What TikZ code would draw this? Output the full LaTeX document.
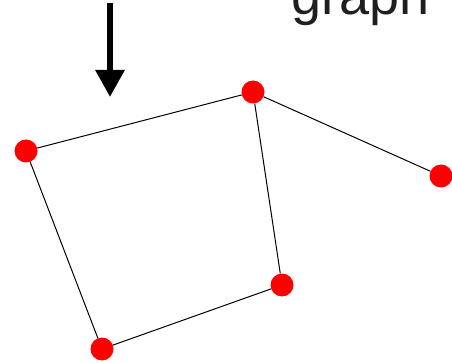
\documentclass[tikz,border=0pt]{standalone}
\usepackage{fontspec}
\setmainfont{Liberation Sans}
\usetikzlibrary{arrows.meta}
\begin{document}
\begin{tikzpicture}[x=1pt, y=-1pt, thin]

    % --- frame of the picture ---
    \useasboundingbox (0,0) rectangle (452,363);

    % --- styles ---
    \tikzset{
        vertex/.style={circle, fill=red, inner sep=0pt, minimum size=23pt},
        edge/.style={draw=black, line width=1pt}
    }

    % --- 1. the word "graph" (cut at the top) ---
    \node[anchor=base west, inner sep=0pt, text=black!88, font=\fontsize{54}{54}\selectfont] (title) at (291,15) {graph};

    % --- 2. thick arrow pointing down ---
    \coordinate (arrowtop) at (110,3);
    \coordinate (arrowtip) at (110,97);
    \draw[line width=6pt, -{Triangle[width=28pt, length=27pt]}] (arrowtop) -- (arrowtip);

    % --- 3. the vertices ---
    \node[vertex] (left)   at (26,151) {};
    \node[vertex] (top)    at (253,92) {};
    \node[vertex] (right)  at (441,176) {};
    \node[vertex] (mid)    at (282,285) {};
    \node[vertex] (bottom) at (102,349) {};

    % --- 4. the edges ---
    \draw[edge] (left) -- (top);
    \draw[edge] (top) -- (right);
    \draw[edge] (top) -- (mid);
    \draw[edge] (mid) -- (bottom);
    \draw[edge] (bottom) -- (left);

\end{tikzpicture}
\end{document}
